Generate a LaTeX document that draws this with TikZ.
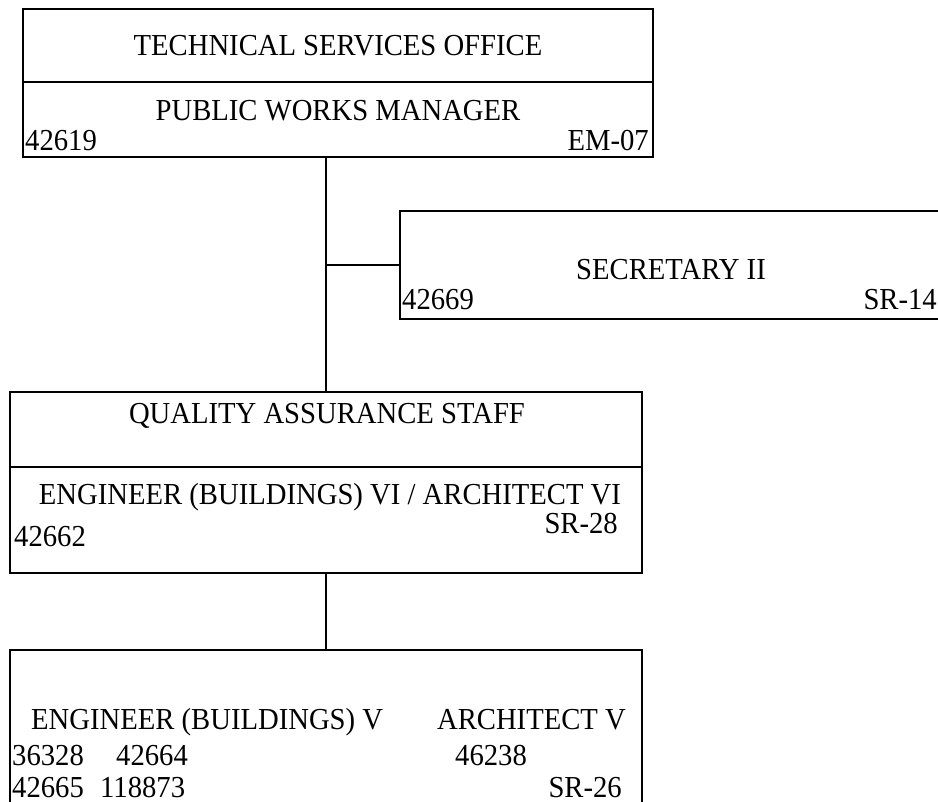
\documentclass[tikz,border=0pt]{standalone}
\usepackage{fontspec}
\setmainfont{Liberation Serif}[FakeStretch=0.94]
\usetikzlibrary{calc}

\begin{document}
\begin{tikzpicture}[x=1pt, y=-1pt,
    box/.style={draw, line width=1.2pt, rectangle, inner sep=0pt},
    txt/.style={anchor=base, inner sep=0pt, font=\fontsize{30.5}{34}\selectfont},
    lft/.style={txt, anchor=base west},
    rgt/.style={txt, anchor=base east},
    link/.style={line width=1.2pt}]
  \useasboundingbox (0,0) rectangle (938,802);

  % Top: office / manager
  \node[box, minimum width=630pt, minimum height=73pt] (topA) at (338,45.5) {};
  \node[box, minimum width=630pt, minimum height=75pt] (topB) at (338,119.5) {};
  \node[txt] (office) at (338,56) {TECHNICAL SERVICES OFFICE};
  \node[txt] (manager) at (338,121) {PUBLIC WORKS MANAGER};
  \node[lft] (mgrno) at (25,151) {42619};
  \node[rgt] (mgrgr) at (649,151) {EM-07};

  % Side: secretary (runs off the right edge)
  \node[box, minimum width=560pt, minimum height=108pt] (sec) at (680,265) {};
  \node[txt] (secname) at (671,280) {SECRETARY II};
  \node[lft] (secno) at (402,310) {42669};
  \node[rgt] (secgr) at (937,310) {SR-14};

  % Middle: quality assurance
  \node[box, minimum width=632pt, minimum height=75pt] (qaA) at (326,429.5) {};
  \node[box, minimum width=632pt, minimum height=106pt] (qaB) at (326,520) {};
  \node[txt] (qaname) at (327,424) {QUALITY ASSURANCE STAFF};
  \node[txt] (qapos) at (330,504) {ENGINEER (BUILDINGS) VI / ARCHITECT VI};
  \node[lft] (qano) at (14,546) {42662};
  \node[rgt] (qagr) at (618,533) {SR-28};

  % Bottom: engineers / architects (runs off the bottom edge)
  \node[box, minimum width=632pt, minimum height=180pt] (bot) at (326,740) {};
  \node[lft] (engname) at (31,729) {ENGINEER (BUILDINGS) V};
  \node[rgt] (archname) at (626,729) {ARCHITECT V};
  \node[lft] (engno1) at (12,765) {36328};
  \node[lft] (engno2) at (116,765) {42664};
  \node[lft] (archno) at (455,765) {46238};
  \node[lft] (engno3) at (12,797) {42665};
  \node[lft] (engno4) at (100,797) {118873};
  \node[rgt] (botgr) at (622,797) {SR-26};

  % connectors
  \draw[link] (qaA.north |- topB.south) -- (qaA.north);
  \draw[link] (qaA.north |- sec.west) -- (sec.west);
  \draw[link] (qaB.south) -- (bot.north);
\end{tikzpicture}
\end{document}
